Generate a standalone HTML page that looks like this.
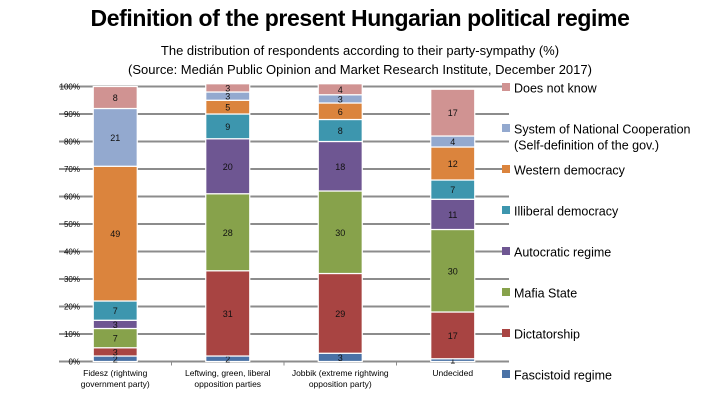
<!DOCTYPE html>
<html><head><meta charset="utf-8"><style>
body{margin:0;background:#fff;font-family:"Liberation Sans",sans-serif}
#wrap{position:relative;width:720px;height:405px;overflow:hidden}
.t{position:absolute;left:0;width:720px;text-align:center;color:#000}
</style></head><body>
<div id="wrap">
<div class="t" style="top:5px;font-size:23px;font-weight:bold;letter-spacing:-0.4px">Definition of the present Hungarian political regime</div>
<div class="t" style="top:41px;font-size:13px;line-height:19px">The distribution of respondents according to their party-sympathy (%)<br>(Source: Medián Public Opinion and Market Research Institute, December 2017)</div>
<svg id="svg" width="720" height="405" style="position:absolute;left:0;top:0"></svg>
</div>
<script>
const categories=["Fidesz (rightwing|government party)","Leftwing, green, liberal|opposition parties","Jobbik (extreme rightwing|opposition party)","Undecided"];
const seriesNames=["Fascistoid regime","Dictatorship","Mafia State","Autocratic regime","Illiberal democracy","Western democracy","System of National Cooperation|(Self-definition of the gov.)","Does not know"];
const colors=["#4a72a6","#a84442","#87a24b","#6e5692","#3d96ae","#db843d","#93a9cf","#d09392"];
const fascistoid=[2,2,3,1];
const dictatorship=[3,31,29,17];
const mafia=[7,28,30,30];
const autocratic=[3,20,18,11];
const illiberal=[7,9,8,7];
const western=[49,5,6,12];
const snc=[21,3,3,4];
const dontknow=[8,3,4,17];
const yTicks=[0,10,20,30,40,50,60,70,80,90,100];
const series=[fascistoid,dictatorship,mafia,autocratic,illiberal,western,snc,dontknow];
const NS="http://www.w3.org/2000/svg";
const svg=document.getElementById('svg');
const X0=59,X1=509,Y0=361.5,Y1=86.5;
const y=v=>Y0-(v/100)*(Y0-Y1);
const band=(X1-X0)/categories.length;
const xc=i=>X0+band*(i+0.5);
function mk(t,a){const e=document.createElementNS(NS,t);for(const k in a)e.setAttribute(k,a[k]);svg.appendChild(e);return e;}
yTicks.forEach(v=>{
  const l=mk('line',{x1:X0,x2:X1,y1:y(v),y2:y(v),stroke:'#8c8c8c','stroke-width':2});
  
  
  const t=mk('text',{x:80,y:y(v)+3,'text-anchor':'end','font-size':8,fill:'#000'});
  t.textContent=v+'%';
  
  
});
for(let i=1;i<categories.length;i++){
  const l=mk('line',{x1:X0+band*i,x2:X0+band*i,y1:Y0,y2:Y0+4,stroke:'#8c8c8c'});
  
  
}
categories.forEach((c,i)=>{
  let cum=0;const bw=44;
  series.forEach((s,j)=>{
    const v=s[i];
    const r=mk('rect',{x:xc(i)-bw/2,y:y(cum+v),width:bw,height:y(cum)-y(cum+v),fill:colors[j],stroke:'#fff','stroke-width':1.2});
    
    
    const t=mk('text',{x:xc(i),y:(y(cum)+y(cum+v))/2+3.5,'text-anchor':'middle','font-size':9,fill:'#111'});
    t.textContent=v;
    
    
    cum+=v;
  });
  c.split('|').forEach((ln,k)=>{
    const t=mk('text',{x:xc(i),y:376+k*11,'text-anchor':'middle','font-size':8.5,fill:'#000'});
    t.textContent=ln;
    
    
  });
});
const ly=[88,129,170,211,252,293,334,375];
seriesNames.forEach((n,j)=>{
  const idx=7-j;
  const name=seriesNames[idx];
  const r=mk('rect',{x:502,y:ly[j]-5,width:8,height:8,fill:colors[idx]});
  
  
  name.split('|').forEach((ln,k)=>{
    const t=mk('text',{x:514,y:ly[j]+4.5+k*16,'font-size':12.5,fill:'#000'});
    t.textContent=ln;
    
    
  });
});
</script>
</body></html>
